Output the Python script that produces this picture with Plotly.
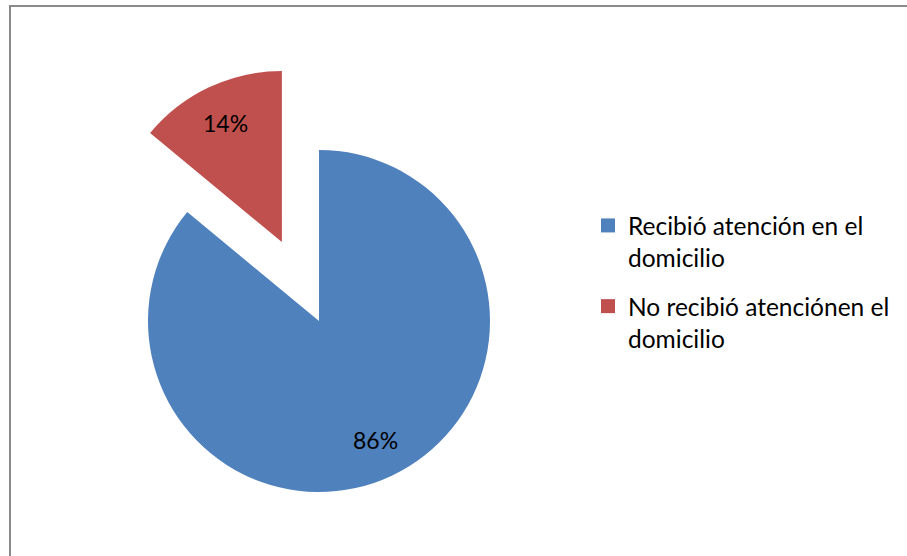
import math
import plotly.graph_objects as go

# Survey result: home-visit attention
labels = ["Recibió atención en el<br>domicilio", "No recibió atenciónen el<br>domicilio"]
values = [86, 14]
colors = ["#4F81BD", "#C0504D"]
pulled_index = 1      # slice drawn detached from the pie
pull = 0.51           # detachment, as a fraction of the radius

W, H = 907, 556
CX, CY, R = 319, 321, 171          # pie centre and radius (px)
LABEL_R = 0.77                      # label distance from centre, fraction of R
FONT = "Lato, Calibri, 'Open Sans', sans-serif"

total = sum(values)
starts = [sum(values[:i]) / total * 360 for i in range(len(values))]
mids = [(starts[i] + values[i] / total * 180) for i in range(len(values))]


def domain(cx, cy):
    return dict(x=[(cx - R) / W, (cx + R) / W], y=[1 - (cy + R) / H, 1 - (cy - R) / H])


def offset(angle_deg, dist):
    a = math.radians(angle_deg)
    return dist * math.sin(a), -dist * math.cos(a)


fig = go.Figure()

# main body of the pie (detached slice left transparent)
body_colors = [c if i != pulled_index else "rgba(0,0,0,0)" for i, c in enumerate(colors)]
fig.add_trace(go.Pie(
    labels=labels, values=values, sort=False, direction="clockwise", rotation=0,
    marker=dict(colors=body_colors, line=dict(width=0)),
    textinfo="none", hoverinfo="label+percent", showlegend=False,
    domain=domain(CX, CY),
))

# detached slice, shifted outwards along its mid-angle
dx, dy = offset(mids[pulled_index], pull * R)
slice_colors = [c if i == pulled_index else "rgba(0,0,0,0)" for i, c in enumerate(colors)]
fig.add_trace(go.Pie(
    labels=labels, values=values, sort=False, direction="clockwise", rotation=0,
    marker=dict(colors=slice_colors, line=dict(width=0)),
    textinfo="none", hoverinfo="skip", showlegend=False,
    domain=domain(CX + dx, CY + dy),
))

# legend entries
for k, (lab, col) in enumerate(zip(labels, colors)):
    fig.add_trace(go.Scatter(
        x=[None], y=[None], mode="markers", name=lab, legendgroup=f"g{k}",
        marker=dict(symbol="square", size=14, color=col),
    ))

# percentage labels
for i, v in enumerate(values):
    cx, cy = CX, CY
    if i == pulled_index:
        cx, cy = CX + dx, CY + dy
    lx, ly = offset(mids[i], LABEL_R * R)
    fig.add_annotation(
        x=(cx + lx) / W, y=1 - (cy + ly) / H, xref="paper", yref="paper",
        xanchor="center", yanchor="middle",
        text=f"{round(v / total * 100)}%", showarrow=False,
        font=dict(family=FONT, size=23, color="#000000"),
    )

# chart frame
fig.add_shape(type="rect", xref="paper", yref="paper",
              x0=10 / W, x1=1.02, y0=-0.02, y1=1 - 6 / H,
              line=dict(color="#8a8a8a", width=2))

fig.update_layout(
    width=W, height=H, margin=dict(l=0, r=0, t=0, b=0),
    paper_bgcolor="white", plot_bgcolor="white",
    xaxis=dict(visible=False), yaxis=dict(visible=False),
    legend=dict(x=588 / W, y=1 - 203 / H, xanchor="left", yanchor="top",
                font=dict(family=FONT, size=24.5, color="#000000"),
                valign="top", tracegroupgap=14, traceorder="grouped",
                bgcolor="rgba(0,0,0,0)"),
)

fig.write_html("out.html")
